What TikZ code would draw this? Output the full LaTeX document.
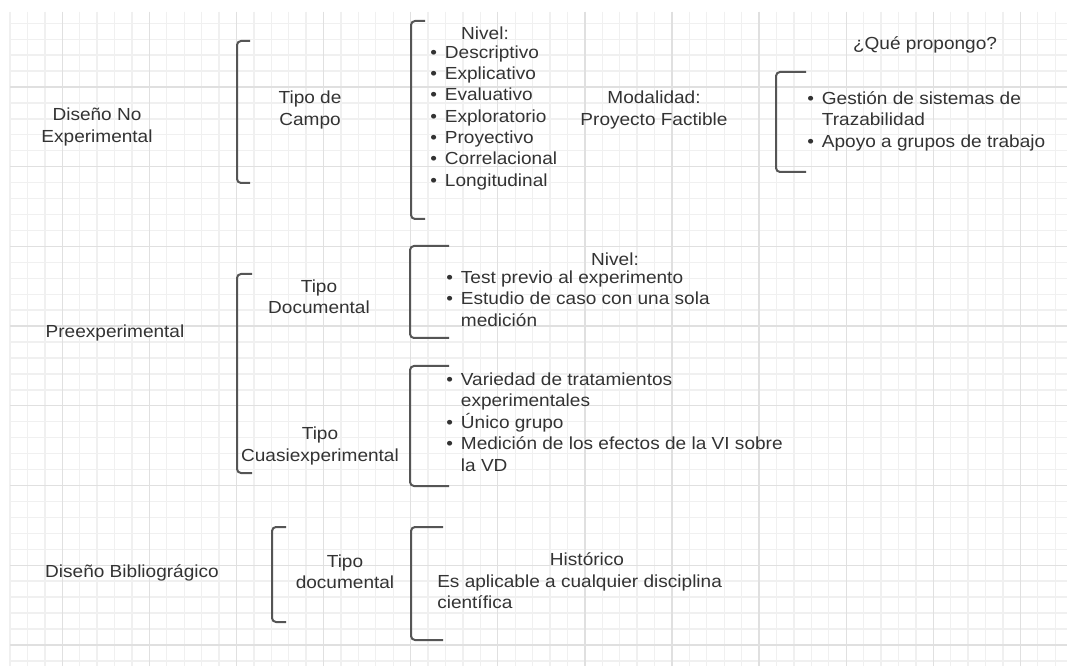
\documentclass[tikz,border=0pt]{standalone}
\usepackage{fontspec}
\setmainfont[FakeStretch=1.09]{Liberation Sans}
\usetikzlibrary{positioning}
\definecolor{gridminor}{HTML}{F0F0F0}
\definecolor{gridmajor}{HTML}{E0E0E0}
\definecolor{inkgray}{HTML}{333333}
\definecolor{bracketgray}{HTML}{555555}

\begin{document}
\begin{tikzpicture}[
    x=0.75pt, y=-0.75pt,
    every node/.style={font=\fontsize{13.1}{16}\selectfont, text=inkgray, inner sep=0pt},
    term/.style={align=center},
    bullets/.style={anchor=west, align=left},
    bracket/.style={draw=bracketgray, line width=1.5pt, rounded corners=3pt},
    gridline/.style={draw=gridminor, line width=1pt},
    gridbold/.style={draw=gridmajor, line width=1pt},
]

% Background and grid
\useasboundingbox (0,0) rectangle (1067,666);
\fill[white] (0,0) rectangle (1067,666);
\foreach \k in {0,...,60} \draw[gridline] ({10+17.42*\k},12) -- ({10+17.42*\k},666);
\foreach \j in {-4,...,36} \draw[gridline] (10,{87+15.94*\j}) -- (1067,{87+15.94*\j});
\foreach \k in {3,8,...,58} \draw[gridbold] ({10+17.42*\k},12) -- ({10+17.42*\k},666);
\foreach \j in {0,5,...,35} \draw[gridbold] (10,{87+15.94*\j}) -- (1067,{87+15.94*\j});

% Diseño No Experimental
\node[term] (noexp) at (97,127) {Diseño No\\Experimental};
\draw[bracket] (250,41) -- (237,41) -- (237,183) -- (250,183);
\node[term] (campo) at (310,110) {Tipo de\\Campo};
\draw[bracket] (425,21) -- (411,21) -- (411,219) -- (425,219);
\node[term] (nivel1) at (485,33) {Nivel:};
\node[bullets] (nivel1list) at (430,118) {\begin{tabular}{@{}l@{\hspace{6pt}}l@{}}
  • & Descriptivo\\ • & Explicativo\\ • & Evaluativo\\ • & Exploratorio\\
  • & Proyectivo\\ • & Correlacional\\ • & Longitudinal
\end{tabular}};
\node[term] (modalidad) at (654,110) {Modalidad:\\Proyecto Factible};

% Qué propongo
\node[term] (propongo) at (925,45) {¿Qué propongo?};
\draw[bracket] (806,72) -- (776,72) -- (776,172) -- (806,172);
\node[bullets] (propuesta) at (807,121.5) {\begin{tabular}{@{}l@{\hspace{6pt}}l@{}}
  • & Gestión de sistemas de\\ & Trazabilidad\\ • & Apoyo a grupos de trabajo
\end{tabular}};

% Preexperimental
\node[term] (preexp) at (115,333) {Preexperimental};
\draw[bracket] (252,274) -- (237,274) -- (237,473) -- (252,473);
\node[term] (documental) at (319,297) {Tipo\\Documental};
\node[term] (cuasi) at (320,446) {Tipo\\Cuasiexperimental};
\draw[bracket] (449,246) -- (410,246) -- (410,338) -- (449,338);
\node[term] (nivel2) at (615,259) {Nivel:};
\node[bullets] (nivel2list) at (446,300.5) {\begin{tabular}{@{}l@{\hspace{6pt}}l@{}}
  • & Test previo al experimento\\ • & Estudio de caso con una sola\\ & medición
\end{tabular}};
\draw[bracket] (449,366) -- (410,366) -- (410,486) -- (449,486);
\node[bullets] (cuasilist) at (446,424) {\begin{tabular}{@{}l@{\hspace{6pt}}l@{}}
  • & Variedad de tratamientos\\ & experimentales\\ • & Único grupo\\
  • & Medición de los efectos de la VI sobre\\ & la VD
\end{tabular}};

% Diseño Bibliográgico
\node[term] (biblio) at (132,573) {Diseño Bibliográgico};
\draw[bracket] (286,527) -- (272,527) -- (272,622) -- (286,622);
\node[term] (bibdoc) at (345,572) {Tipo\\documental};
\draw[bracket] (443,527) -- (411,527) -- (411,640) -- (443,640);
\node[term] (historico) at (587,559) {Histórico};
\node[bullets] (aplicable) at (437,591.5) {Es aplicable a cualquier disciplina\\científica};

\end{tikzpicture}
\end{document}
